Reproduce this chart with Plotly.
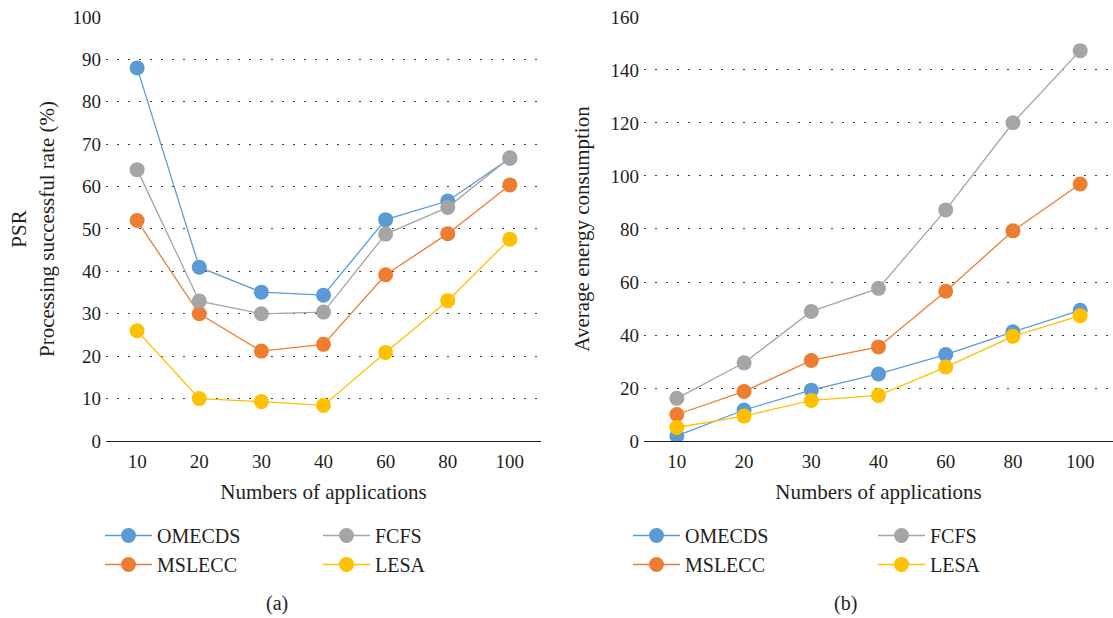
import plotly.graph_objects as go

# Category labels shared by both panels
apps = ["10", "20", "30", "40", "60", "80", "100"]

# (a) Processing successful rate (%)
psr_omecds = [88, 41, 35.1, 34.4, 52.2, 56.6, 66.7]
psr_mslecc = [52, 30, 21.2, 22.8, 39.2, 48.9, 60.4]
psr_fcfs = [64, 33, 30.0, 30.4, 48.8, 55.1, 66.8]
psr_lesa = [26, 10, 9.3, 8.4, 20.9, 33.1, 47.6]

# (b) Average energy consumption
eng_omecds = [1.9, 11.7, 19.2, 25.3, 32.6, 41.2, 49.3]
eng_mslecc = [10.0, 18.7, 30.4, 35.5, 56.5, 79.3, 97.0]
eng_fcfs = [16.1, 29.5, 48.9, 57.6, 87.2, 120.1, 147.3]
eng_lesa = [5.1, 9.4, 15.3, 17.2, 27.9, 39.5, 47.3]

series_names = ["OMECDS", "MSLECC", "FCFS", "LESA"]
colors = {"OMECDS": "#5B9BD5", "MSLECC": "#ED7D31", "FCFS": "#A5A5A5", "LESA": "#FFC000"}

FONT = "Liberation Serif"
TXT = "#231f20"
W, H = 1113, 618

# each panel gets a two-column key: first column OMECDS/MSLECC, second FCFS/LESA
key_columns = {
    "a": {"OMECDS": "legend", "MSLECC": "legend", "FCFS": "legend2", "LESA": "legend2"},
    "b": {"OMECDS": "legend3", "MSLECC": "legend3", "FCFS": "legend4", "LESA": "legend4"},
}

fig = go.Figure()

panels = [
    ("a", "x", "y", [psr_omecds, psr_mslecc, psr_fcfs, psr_lesa]),
    ("b", "x2", "y2", [eng_omecds, eng_mslecc, eng_fcfs, eng_lesa]),
]
for tag, xa, ya, values in panels:
    for name, vals in zip(series_names, values):
        fig.add_trace(go.Scatter(
            x=apps, y=vals, name=name, mode="lines+markers",
            xaxis=xa, yaxis=ya,
            legend=key_columns[tag][name], legendgroup=f"{tag}-{name}",
            line=dict(color=colors[name], width=1.3),
            marker=dict(color=colors[name], size=15),
        ))

axis_common = dict(
    type="category", automargin=False,
    showline=True, linecolor="#231f20", linewidth=1.3,
    ticks="", ticklabelstandoff=3,
    tickfont=dict(family=FONT, size=19, color=TXT),
    showgrid=False, zeroline=False,
)
yaxis_common = dict(
    automargin=False,
    showline=False, ticks="", ticklabelstandoff=4,
    tickfont=dict(family=FONT, size=19, color=TXT),
    showgrid=True, gridcolor="#3a3a3a", gridwidth=1.3, griddash="2px,9px",
    zeroline=False,
)
title_font = dict(family=FONT, size=21, color=TXT)


def key(x_px):
    return dict(
        orientation="v", x=x_px / W, xanchor="left",
        y=(H - 550) / H, yanchor="middle",
        itemwidth=47, tracegroupgap=0,
        font=dict(family=FONT, size=20, color=TXT),
        bgcolor="rgba(0,0,0,0)", borderwidth=0,
    )


fig.update_layout(
    width=W, height=H,
    margin=dict(l=0, r=0, t=0, b=0, autoexpand=False),
    paper_bgcolor="white", plot_bgcolor="white",
    font=dict(family=FONT, color=TXT),
    showlegend=True,
    xaxis=dict(axis_common, domain=[106 / W, 541 / W], anchor="y",
               title=dict(text="Numbers of applications", font=title_font, standoff=13)),
    yaxis=dict(yaxis_common, domain=[0.2864, 0.9725], anchor="x", range=[0, 100], dtick=10,
               title=dict(text="PSR<br>Processing successful rate (%)", font=title_font, standoff=12)),
    xaxis2=dict(axis_common, domain=[644 / W, 1.0], anchor="y2",
                title=dict(text="Numbers of applications", font=title_font, standoff=13)),
    yaxis2=dict(yaxis_common, domain=[0.2864, 0.9725], anchor="x2", range=[0, 160], dtick=20,
                title=dict(text="Average energy consumption", font=title_font, standoff=15)),
    legend=key(100),
    legend2=key(318),
    legend3=key(628),
    legend4=key(873),
    annotations=[
        dict(text="(a)", x=277 / W, y=(H - 603) / H, xref="paper", yref="paper",
             xanchor="center", yanchor="middle",
             showarrow=False, font=dict(family=FONT, size=20, color=TXT)),
        dict(text="(b)", x=845 / W, y=(H - 603) / H, xref="paper", yref="paper",
             xanchor="center", yanchor="middle",
             showarrow=False, font=dict(family=FONT, size=20, color=TXT)),
    ],
)

fig.write_html("out.html")
